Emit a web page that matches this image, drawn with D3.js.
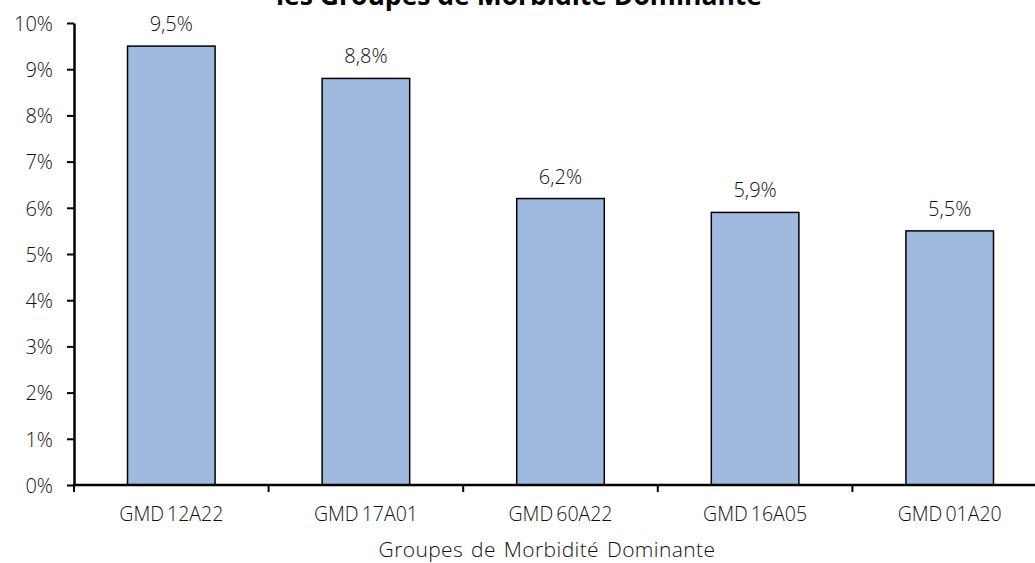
<!DOCTYPE html>
<html>
<head>
<meta charset="utf-8">
<script src="https://cdn.jsdelivr.net/npm/d3@7"></script>
<style>
  body { margin: 0; background: #fff; }
  text { font-family: "Open Sans", "Noto Sans", sans-serif; font-weight: 300; fill: #111; }
</style>
</head>
<body>
<svg class="chart"></svg>
<script>
let categories = ["GMD 12A22", "GMD 17A01", "GMD 60A22", "GMD 16A05", "GMD 01A20"];
let values = [9.5, 8.8, 6.2, 5.9, 5.5];
let valueLabels = ["9,5%", "8,8%", "6,2%", "5,9%", "5,5%"];
let yTicks = [0, 1, 2, 3, 4, 5, 6, 7, 8, 9, 10];

let w = 1035;
let h = 563;

var svg = d3.select(".chart")
            .attr("width", w)
            .attr("height", h);

// plot runs past the right edge in the original, so the range goes beyond w
var xS = d3.scaleBand()
           .domain(categories)
           .range([74, 1047])
           .paddingInner(0.55)
           .paddingOuter(0.275);

var yS = d3.scaleLinear()
           .domain([0, 10])
           .range([485, 23]);

// bars
svg.selectAll(".bar")
   .data(values)
   .enter().append("rect")
   .attr("class", "bar")
   .attr("x", (d, i) => xS(categories[i]))
   .attr("y", d => yS(d))
   .attr("width", xS.bandwidth())
   .attr("height", d => yS(0) - yS(d))
   .attr("fill", "#a0b9de")
   .attr("stroke", "#000")
   .attr("stroke-width", 1.5);

// value labels
svg.selectAll(".vlabel")
   .data(values)
   .enter().append("text")
   .attr("class", "vlabel")
   .attr("x", (d, i) => xS(categories[i]) + xS.bandwidth() / 2)
   .attr("y", d => yS(d) - 15)
   .attr("text-anchor", "middle")
   .attr("font-size", "20px")
   .text((d, i) => valueLabels[i]);

// y axis
var yAxis = svg.append("g")
   .attr("transform", "translate(74,0)")
   .call(d3.axisLeft(yS).tickValues(yTicks).tickFormat(d => d + "%").tickSize(7).tickSizeOuter(0));
yAxis.select(".domain").attr("stroke-width", 2.5).attr("stroke", "#000");
yAxis.selectAll(".tick line").attr("stroke-width", 2).attr("stroke", "#000");
yAxis.selectAll(".tick text")
     .attr("x", -21)
     .attr("dy", "0.36em")
     .attr("font-size", "20px")
     .attr("font-family", null)
     .attr("fill", null);

// x axis line with ticks at band boundaries
var bounds = categories.map(c => xS(c) - xS.step() * xS.paddingInner() / 2);
var xAxis = svg.append("g");
xAxis.append("line")
     .attr("x1", 73).attr("x2", w)
     .attr("y1", yS(0)).attr("y2", yS(0))
     .attr("stroke", "#000")
     .attr("stroke-width", 2.5);
xAxis.selectAll(".xtick")
     .data(bounds)
     .enter().append("line")
     .attr("x1", d => d).attr("x2", d => d)
     .attr("y1", yS(0)).attr("y2", yS(0) + 7)
     .attr("stroke", "#000")
     .attr("stroke-width", 2);
xAxis.selectAll(".xlabel")
     .data(categories)
     .enter().append("text")
     .attr("x", d => xS(d) + xS.bandwidth() / 2)
     .attr("y", 521)
     .attr("text-anchor", "middle")
     .attr("font-size", "19.5px")
     .attr("word-spacing", "-2px")
     .text(d => d);

// axis title
svg.append("text")
   .attr("x", 547)
   .attr("y", 557)
   .attr("text-anchor", "middle")
   .attr("font-size", "21px")
   .attr("letter-spacing", "0.4px")
   .attr("word-spacing", "2px")
   .text("Groupes de Morbidité Dominante");

// chart title (clipped at the top in the original)
svg.append("text")
   .attr("x", 519)
   .attr("y", 5)
   .attr("text-anchor", "middle")
   .attr("font-size", "26.5px")
   .style("font-weight", "bold")
   .style("fill", "#000")
   .text("les Groupes de Morbidité Dominante");
</script>
</body>
</html>
